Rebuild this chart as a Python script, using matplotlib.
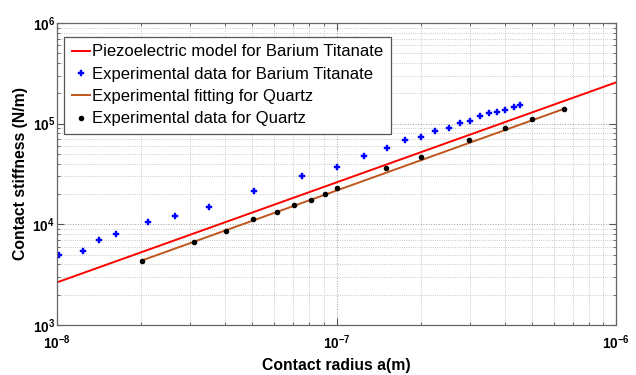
import numpy as np
import matplotlib
matplotlib.use('Agg')
import matplotlib.pyplot as plt
from matplotlib.ticker import FixedLocator, LogLocator, NullFormatter

plt.rcParams['font.family'] = ['Liberation Sans', 'DejaVu Sans']
plt.rcParams['mathtext.fontset'] = 'custom'
plt.rcParams['mathtext.rm'] = 'Liberation Sans:bold'
plt.rcParams['mathtext.bf'] = 'Liberation Sans:bold'

# piezoelectric model for barium titanate (straight line on log-log)
model_a = [1e-8, 1e-6]
model_k = [2.65e3, 2.57e5]

# experimental data, barium titanate
bt_a = [1.02e-8, 1.24e-8, 1.41e-8, 1.62e-8, 2.11e-8, 2.65e-8, 3.50e-8, 5.05e-8,
        7.55e-8, 1.0e-7, 1.25e-7, 1.51e-7, 1.76e-7, 2.0e-7, 2.26e-7, 2.53e-7,
        2.77e-7, 3.0e-7, 3.26e-7, 3.51e-7, 3.76e-7, 4.01e-7, 4.30e-7, 4.53e-7]
bt_k = [4.94e3, 5.49e3, 7.01e3, 8.05e3, 1.05e4, 1.22e4, 1.48e4, 2.15e4,
        2.99e4, 3.70e4, 4.80e4, 5.78e4, 6.81e4, 7.41e4, 8.36e4, 8.98e4,
        1.01e5, 1.06e5, 1.20e5, 1.27e5, 1.30e5, 1.37e5, 1.47e5, 1.52e5]

# experimental fitting, quartz
fit_a = [2.0e-8, 6.5e-7]
fit_k = [4.35e3, 1.40e5]

# experimental data, quartz
qz_a = [2.01e-8, 3.10e-8, 4.02e-8, 5.02e-8, 6.11e-8, 7.07e-8, 8.12e-8, 9.13e-8,
        1.0e-7, 1.50e-7, 2.0e-7, 2.99e-7, 4.01e-7, 5.0e-7, 6.49e-7]
qz_k = [4.37e3, 6.65e3, 8.55e3, 1.13e4, 1.32e4, 1.54e4, 1.73e4, 2.01e4,
        2.29e4, 3.63e4, 4.69e4, 6.92e4, 9.04e4, 1.12e5, 1.39e5]

xticks = [1e-8, 1e-7, 1e-6]
xticklabels = [r'$\mathbf{10^{-8}}$', r'$\mathbf{10^{-7}}$', r'$\mathbf{10^{-6}}$']
yticks = [1e3, 1e4, 1e5, 1e6]
yticklabels = [r'$\mathbf{10^{3}}$', r'$\mathbf{10^{4}}$', r'$\mathbf{10^{5}}$', r'$\mathbf{10^{6}}$']

fig = plt.figure(figsize=(6.36, 3.75), dpi=100)
ax = fig.add_axes([57/636, 1-325/375, (616-57)/636, (325-23)/375])

ax.plot(model_a, model_k, color='#ff0000', lw=1.4, label='Piezoelectric model for Barium Titanate')
ax.plot(bt_a, bt_k, ls='none', marker='P', ms=4.8, color='#0000ff', mec='#0000ff', mew=0.3,
        label='Experimental data for Barium Titanate')
ax.plot(fit_a, fit_k, color='#c0561e', lw=1.4, label='Experimental fitting for Quartz')
ax.plot(qz_a, qz_k, ls='none', marker='o', ms=3, color='black',
        label='Experimental data for Quartz')

ax.set_xscale('log')
ax.set_yscale('log')
ax.set_xlim(1e-8, 1e-6)
ax.set_ylim(1e3, 1e6)

ax.xaxis.set_major_locator(FixedLocator(xticks))
ax.set_xticklabels(xticklabels)
ax.yaxis.set_major_locator(FixedLocator(yticks))
ax.set_yticklabels(yticklabels)
ax.xaxis.set_minor_locator(LogLocator(base=10, subs=np.arange(2, 10), numticks=20))
ax.yaxis.set_minor_locator(LogLocator(base=10, subs=np.arange(2, 10), numticks=20))
ax.xaxis.set_minor_formatter(NullFormatter())
ax.yaxis.set_minor_formatter(NullFormatter())

ax.tick_params(which='both', direction='in', top=True, right=True, colors='#555555')
ax.tick_params(which='major', length=5, labelcolor='black', labelsize=9.8)
ax.tick_params(which='minor', length=2.5)
ax.tick_params(axis='x', which='major', pad=6)
ax.tick_params(axis='y', which='major', pad=1.5)

ax.grid(True, which='major', ls=':', color='#a0a0a0', lw=0.7)
ax.grid(True, which='minor', ls=':', color='#b8b8b8', lw=0.6)
for s in ax.spines.values():
    s.set_color('#666666')
    s.set_linewidth(0.9)

ax.set_xlabel('Contact radius a(m)', fontsize=11.3, fontweight='bold')
ax.set_ylabel('Contact stiffness (N/m)', fontsize=11.3, fontweight='bold')
ax.xaxis.set_label_coords(0.5, -0.108)
ax.yaxis.set_label_coords(-0.052, 0.5)

leg = ax.legend(loc='upper left', bbox_to_anchor=(7/559, 1-14/302), fontsize=12.0,
                handlelength=1.1, handletextpad=0.15, borderpad=0.45, labelspacing=0.44,
                borderaxespad=0, fancybox=False, framealpha=1)
leg.get_frame().set_edgecolor('#555555')
leg.get_frame().set_linewidth(0.9)

fig.savefig('out.png', dpi=100)
